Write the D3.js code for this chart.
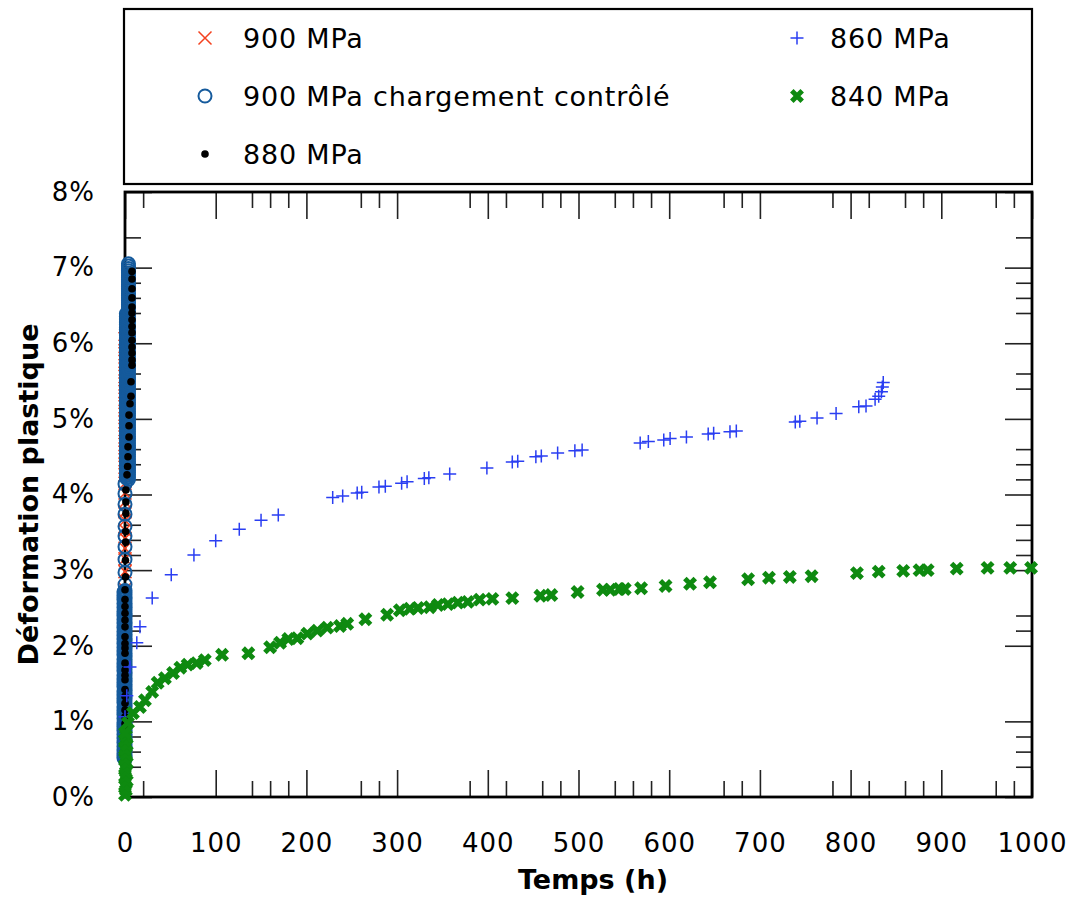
<!DOCTYPE html>
<html><head><meta charset="utf-8">
<script src="https://cdn.jsdelivr.net/npm/d3@7"></script>
<style>body{margin:0;background:#fff} svg{display:block}</style>
</head><body><svg id="c" width="1074" height="900"></svg>
<script>
// ---------- data ----------
const xMajorTicks = [0,100,200,300,400,500,600,700,800,900,1000];
const xMinorTicks = [20,140,160,180,260,280,380,420,460,480,540,560,580,660,680,780,820,860,880,960,980];
const yMajorTicks = [0,1,2,3,4,5,6,7,8];
const yMinorTicks = [0.4,0.6,0.8,2.2,2.4,3.2,3.4,3.6,4.2,4.4,4.6,5.4,5.6,6.4,6.6,6.8,7.4];
const xTickLabels = ["0","100","200","300","400","500","600","700","800","900","1000"];
const yTickLabels = ["0%","1%","2%","3%","4%","5%","6%","7%","8%"];
const seriesNames = ["900 MPa","900 MPa chargement contrôlé","880 MPa","860 MPa","840 MPa"];
const xTitle = "Temps (h)";
const yTitle = "Déformation plastique";

// 900 MPa (red x): [time h, strain %]
const s900 = [[0,0.55],[0,0.75],[0,0.95],[0,1.15],[0,1.35],[0,1.55],[0,1.75],[0,1.95],[0,2.15],[0,2.35],[0,2.55],[0,2.75],
 [0,2.98],[0,3.15],[0,3.29],[0,3.42],[0,3.53],[0,3.66],[0,3.77],[0,3.90],[0,4.02],[0,4.15],
 [0,4.26],[0,4.36],[0,4.46],[0,4.56],[0,4.66],[0,4.76],[0,4.86],[0,4.96],[0,5.06],[0,5.16],[0,5.26],[0,5.36],
 [0,5.46],[0,5.56],[0,5.66],[0,5.76],[0,5.86],[0,5.96],[0,6.06]];

// 900 MPa chargement contrôlé (blue circles)
const ctrlLowTime = 0;
const ctrlLowStrain = [0.50,0.53,0.55,0.58,0.61,0.64,0.66,0.69,0.72,0.75,0.77,0.80,0.83,0.86,0.88,0.91,0.94,0.97,0.99,1.02,1.05,1.08,1.10,1.13,1.16,1.19,1.21,1.24,1.27,1.30,1.32,1.35,1.38,1.41,1.43,1.46,1.49,1.52,1.54,1.57,1.60,1.63,1.65,1.68,1.71,1.74,1.76,1.79,1.82,1.85,1.87,1.90,1.93,1.96,1.98,2.01,2.04,2.07,2.09,2.12,2.15,2.18,2.20,2.23,2.26,2.29,2.31,2.34,2.37,2.40,2.42,2.45,2.48,2.51,2.53,2.56,2.59,2.62,2.64,2.67,2.70,2.73];
const ctrlLow2Time = -1.2;
const ctrlLow2Strain = [0.52,0.57,0.62,0.67,0.72,0.78,0.83,0.88,0.93,0.98,1.04,1.09,1.14,1.19,1.25,1.30,1.35,1.40,1.46,1.51,1.56,1.61,1.67,1.72,1.77,1.82,1.88,1.93,1.98,2.03,2.09,2.14,2.19,2.24,2.30,2.35,2.40,2.45,2.51,2.56,2.61,2.66,2.71];
const ctrlMidTime = 0;
const ctrlMidStrain = [2.81,2.97,3.14,3.31,3.45,3.58,3.74,3.87,4.01,4.14];
const ctrlHighBTime = 1.5;
const ctrlHighBStrain = [4.22,4.25,4.29,4.32,4.36,4.39,4.43,4.46,4.50,4.53,4.57,4.60,4.64,4.67,4.71,4.74,4.78,4.81,4.85,4.88,4.92,4.95,4.99,5.02,5.06,5.09,5.13,5.16,5.20,5.23,5.27,5.30,5.34,5.37,5.41,5.44,5.48,5.51,5.55,5.58,5.62,5.65,5.69,5.72,5.76,5.79,5.83,5.86,5.90,5.93,5.97,6.00,6.04,6.07,6.11,6.14,6.18,6.21,6.25,6.28,6.32,6.35,6.39];
const ctrlHighATime = 3.8;
const ctrlHighAStrain = [4.20,4.23,4.26,4.29,4.32,4.35,4.38,4.41,4.44,4.47,4.50,4.53,4.56,4.59,4.62,4.65,4.68,4.71,4.74,4.77,4.80,4.83,4.86,4.89,4.92,4.95,4.98,5.01,5.04,5.07,5.10,5.13,5.16,5.19,5.22,5.25,5.28,5.31,5.34,5.37,5.40,5.43,5.46,5.49,5.52,5.55,5.58,5.61,5.64,5.67,5.70,5.73,5.76,5.79,5.82,5.85,5.88,5.91,5.94,5.97,6.00,6.03,6.06,6.09,6.12,6.15,6.18,6.21,6.24,6.27,6.30,6.33,6.36,6.39,6.42,6.45,6.48,6.51,6.54,6.57,6.60,6.63,6.66,6.69,6.72,6.75,6.78,6.81,6.84,6.87,6.90,6.93,6.96,6.99,7.02,7.05];

// 880 MPa (black dots): [time h, strain %]
const s880 = [[0,0.30],[0,0.50],[0,0.70],[0,0.89],[0,0.97],[0,1.06],[0,1.15],[0,1.24],[0,1.33],[0,1.42],[0,1.55],[0,1.61],[0,1.68],[0,1.77],
 [0,1.90],[0,1.97],[0,2.03],[0,2.12],[0,2.25],[0,2.34],[0,2.43],[0,2.52],[0,2.61],[0,2.74],[0.5,2.91],[0.5,3.13],[0.8,3.37],
 [0.8,3.51],[1,3.75],[1,3.90],[1,4.06],[2.2,4.26],[2.9,4.37],[3.3,4.50],[3.3,4.63],[4.4,4.76],[4.4,4.91],[4.4,5.05],
 [5.5,5.20],[6.6,5.30],[6.6,5.49],[7.7,5.71],[7.7,5.78],[7.7,5.87],[7.7,5.95],[7.7,6.04],[7.7,6.14],[7.7,6.22],
 [7.7,6.31],[7.7,6.40],[7.7,6.48],[7.7,6.60],[7.7,6.72],[7.7,6.85],[7.7,6.95]];

// 860 MPa (blue +)
const s860 = [[0,1.06],[2,1.34],[5.5,1.72],[13,2.04],[16.5,2.25],[30,2.63],[51,2.94],[76,3.20],[100,3.39],[126,3.54],
 [150,3.66],[169,3.73],[229,3.96],[240,3.98],[256,4.02],[261,4.03],[280,4.10],[287,4.11],[305,4.15],[311,4.17],
 [330,4.21],[335,4.22],[358,4.27],[399,4.35],[427,4.43],[433,4.44],[453,4.50],[459,4.51],[477,4.55],[496,4.58],
 [504,4.59],[568,4.68],[577,4.70],[594,4.72],[601,4.74],[619,4.76],[643,4.80],[649,4.81],[667,4.83],[674,4.84],
 [739,4.96],[744,4.97],[763,5.01],[784,5.07],[809,5.16],[817,5.17],[827,5.26],[831,5.30],[834,5.36],[835,5.42],[836,5.48]];

// 840 MPa (green bold x)
const s840 = [[0,0.03],[1,0.09],[0,0.15],[2,0.21],[0,0.27],[1,0.33],[0,0.39],[2,0.45],[0,0.51],[1,0.57],[0,0.63],[2,0.69],[0,0.75],[1,0.81],
 [0,0.85],[3.3,0.98],[8.8,1.11],[16.5,1.19],[22,1.28],[30,1.39],[36,1.51],[44,1.57],[53,1.64],[61,1.71],[69,1.75],[79,1.77],
 [88,1.81],[107,1.88],[136,1.90],[160,1.98],[171,2.04],[180,2.09],[190,2.10],[201,2.16],[212,2.20],[223,2.24],[237,2.26],
 [245,2.29],[265,2.35],[289,2.41],[303,2.47],[314,2.49],[323,2.50],[336,2.51],[345,2.54],[356,2.55],[367,2.57],[378,2.58],
 [391,2.61],[405,2.62],[427,2.63],[458,2.66],[470,2.67],[499,2.71],[527,2.74],[535,2.74],[545,2.75],[551,2.75],[569,2.76],
 [596,2.79],[623,2.82],[645,2.84],[687,2.88],[710,2.90],[733,2.91],[757,2.92],[807,2.96],[831,2.98],[858,2.99],[876,3.00],
 [885,3.00],[917,3.02],[951,3.03],[976,3.03],[999,3.03]];

// ---------- chart ----------
const svg = d3.select("#c");
const L = 125, R = 1032, T = 192, B = 797;
const x = d3.scaleLinear().domain([0,1000]).range([L,R]);
const y = d3.scaleLinear().domain([0,8]).range([B,T]);
const FONT = "'DejaVu Sans', sans-serif";

const colRed = "#f4411f", colCirc = "#155a9c", colBlk = "#000", colPlus = "#2a3ef2", colGreen = "#0e8a10";

function styleAxis(g){
  g.select(".domain").remove();
  g.selectAll(".tick line").attr("stroke","#222").attr("stroke-width",1.6);
}
// bottom
svg.append("g").attr("transform",`translate(0,${B})`)
  .call(d3.axisBottom(x).tickValues(xMajorTicks).tickSize(-27).tickPadding(37).tickFormat((d,i)=>xTickLabels[i]))
  .call(styleAxis)
  .call(g=>g.selectAll("text").attr("font-family",FONT).attr("font-size",26).attr("letter-spacing","1px").attr("fill","#000"));
svg.append("g").attr("transform",`translate(0,${B})`)
  .call(d3.axisBottom(x).tickValues(xMinorTicks).tickSize(-16).tickFormat(""))
  .call(styleAxis);
// top
svg.append("g").attr("transform",`translate(0,${T})`)
  .call(d3.axisTop(x).tickValues(xMajorTicks).tickSize(-27).tickFormat(""))
  .call(styleAxis);
svg.append("g").attr("transform",`translate(0,${T})`)
  .call(d3.axisTop(x).tickValues(xMinorTicks).tickSize(-16).tickFormat(""))
  .call(styleAxis);
// left
svg.append("g").attr("transform",`translate(${L},0)`)
  .call(d3.axisLeft(y).tickValues(yMajorTicks).tickSize(-27).tickPadding(30).tickFormat((d,i)=>yTickLabels[i]))
  .call(styleAxis)
  .call(g=>g.selectAll("text").attr("font-family",FONT).attr("font-size",26).attr("letter-spacing","1px").attr("fill","#000"));
svg.append("g").attr("transform",`translate(${L},0)`)
  .call(d3.axisLeft(y).tickValues(yMinorTicks).tickSize(-16).tickFormat(""))
  .call(styleAxis);
// right
svg.append("g").attr("transform",`translate(${R},0)`)
  .call(d3.axisRight(y).tickValues(yMajorTicks).tickSize(-27).tickFormat(""))
  .call(styleAxis);
svg.append("g").attr("transform",`translate(${R},0)`)
  .call(d3.axisRight(y).tickValues(yMinorTicks).tickSize(-16).tickFormat(""))
  .call(styleAxis);

// frame
svg.append("rect").attr("x",L).attr("y",T).attr("width",R-L).attr("height",B-T)
  .attr("fill","none").attr("stroke","#000").attr("stroke-width",2.8);

// titles
svg.append("text").attr("x",593).attr("y",889).attr("text-anchor","middle")
  .attr("font-family",FONT).attr("font-weight","bold").attr("font-size",27).text(xTitle);
svg.append("text").attr("transform",`translate(38,${(T+B)/2}) rotate(-90)`).attr("text-anchor","middle")
  .attr("font-family",FONT).attr("font-weight","bold").attr("font-size",27).text(yTitle);

// marker helpers
const sym = {
  cross: s=>`M${-s},${-s}L${s},${s}M${-s},${s}L${s},${-s}`,
  plus: s=>`M${-s},0H${s}M0,${-s}V${s}`
};
function drawCross(g, data, color, s, w){
  g.selectAll(null).data(data).join("path")
    .attr("transform",d=>`translate(${x(d[0])},${y(d[1])})`)
    .attr("d",sym.cross(s)).attr("fill","none").attr("stroke",color).attr("stroke-width",w);
}
function drawPlus(g, data, color, s, w){
  g.selectAll(null).data(data).join("path")
    .attr("transform",d=>`translate(${x(d[0])},${y(d[1])})`)
    .attr("d",sym.plus(s)).attr("fill","none").attr("stroke",color).attr("stroke-width",w);
}
function drawCircles(g, data){
  g.selectAll(null).data(data).join("circle")
    .attr("cx",d=>x(d[0])).attr("cy",d=>y(d[1])).attr("r",6.5)
    .attr("fill","none").attr("stroke",colCirc).attr("stroke-width",2);
}
function drawDots(g, data){
  g.selectAll(null).data(data).join("circle")
    .attr("cx",d=>x(d[0])).attr("cy",d=>y(d[1])).attr("r",3.8).attr("fill",colBlk);
}

const plot = svg.append("g");
drawCross(plot.append("g"), s900, colRed, 6.5, 1.5);
const ctrlData = [
  ...ctrlLowStrain.map(v=>[ctrlLowTime,v]),
  ...ctrlLow2Strain.map(v=>[ctrlLow2Time,v]),
  ...ctrlMidStrain.map(v=>[ctrlMidTime,v]),
  ...ctrlHighBStrain.map(v=>[ctrlHighBTime,v]),
  ...ctrlHighAStrain.map(v=>[ctrlHighATime,v])
];
drawCircles(plot.append("g"), ctrlData);
drawDots(plot.append("g"), s880);
drawPlus(plot.append("g"), s860, colPlus, 6.5, 1.5);
drawCross(plot.append("g"), s840, colGreen, 5.2, 5);

// legend
svg.append("rect").attr("x",124).attr("y",9).attr("width",908).attr("height",175)
  .attr("fill","none").attr("stroke","#000").attr("stroke-width",2.2);
const legRows = [38,96,154];
const legend = [
  {col:0,row:0,type:"cross"},{col:0,row:1,type:"circle"},{col:0,row:2,type:"dot"},
  {col:1,row:0,type:"plus"},{col:1,row:1,type:"bold"}
];
const symX = [205,797], txtX = [243,830];
legend.forEach((e,i)=>{
  const cx = symX[e.col], cy = legRows[e.row];
  const g = svg.append("g").attr("transform",`translate(${cx},${cy})`);
  if(e.type==="cross") g.append("path").attr("d",sym.cross(6.5)).attr("stroke",colRed).attr("stroke-width",1.5).attr("fill","none");
  if(e.type==="circle") g.append("circle").attr("r",6.5).attr("fill","none").attr("stroke",colCirc).attr("stroke-width",2);
  if(e.type==="dot") g.append("circle").attr("r",3.8).attr("fill",colBlk);
  if(e.type==="plus") g.append("path").attr("d",sym.plus(6.5)).attr("stroke",colPlus).attr("stroke-width",1.5).attr("fill","none");
  if(e.type==="bold") g.append("path").attr("d",sym.cross(5.2)).attr("stroke",colGreen).attr("stroke-width",5).attr("fill","none");
  svg.append("text").attr("x",txtX[e.col]).attr("y",cy+10).attr("font-family",FONT).attr("font-size",27)
    .attr("letter-spacing","0.8px").attr("fill","#000").text(seriesNames[i]);
});
</script></body></html>
